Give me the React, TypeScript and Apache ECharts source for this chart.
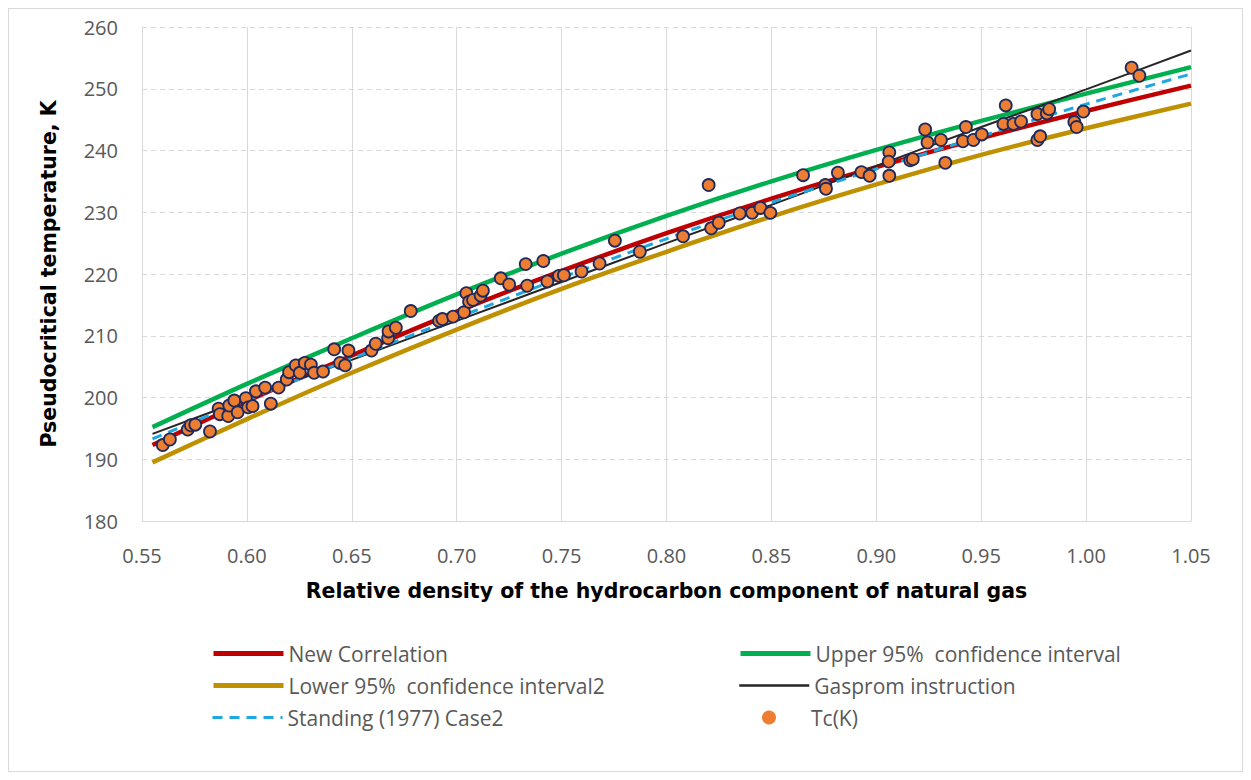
import React, { useEffect, useRef } from "react";
import * as echarts from "echarts";

// Curve abscissae (relative density)
const curveX = [0.555, 0.6, 0.65, 0.7, 0.75, 0.8, 0.85, 0.9, 0.95, 1.0, 1.05];
// Curves (K)
const newCorrelation = [192.3, 199.4, 206.8, 213.9, 220.5, 226.6, 232.2, 237.3, 242.0, 246.4, 250.5];
const upper95 = [195.2, 202.2, 209.6, 216.7, 223.3, 229.4, 235.0, 240.1, 244.8, 249.2, 253.5];
const lower95 = [189.5, 196.5, 204.0, 211.0, 217.6, 223.6, 229.3, 234.5, 239.3, 243.6, 247.6];
const gasprom = [194.1, 199.8, 206.1, 212.4, 218.7, 225.0, 231.2, 237.5, 243.8, 249.9, 256.2];
const standing = [193.3, 199.6, 206.3, 212.9, 219.4, 225.7, 231.6, 237.0, 242.3, 247.5, 252.4];

// Measured Tc(K) points: relative density
const tcX = [
  0.5599, 0.5633, 0.5718, 0.5733, 0.5754, 0.5824, 0.5865, 0.5871, 0.5911, 0.5916,
  0.594, 0.5956, 0.5995, 0.6006, 0.6027, 0.6043, 0.6087, 0.6114, 0.6151, 0.619,
  0.6201, 0.6233, 0.6252, 0.6276, 0.6305, 0.632, 0.6363, 0.6416, 0.6444, 0.6468,
  0.6484, 0.6594, 0.6614, 0.6673, 0.6675, 0.671, 0.6781, 0.6916, 0.6932, 0.6983,
  0.7035, 0.7046, 0.7059, 0.7078, 0.7114, 0.7125, 0.721, 0.725, 0.7329, 0.7336,
  0.7413, 0.7432, 0.7487, 0.7511, 0.7595, 0.7681, 0.7754, 0.7873, 0.8079, 0.8201,
  0.8213, 0.8249, 0.8349, 0.8408, 0.8448, 0.8495, 0.8651, 0.8757, 0.876, 0.8817,
  0.8929, 0.8968, 0.9062, 0.9059, 0.9062, 0.9162, 0.9174, 0.9233, 0.9244, 0.9308,
  0.9329, 0.9413, 0.9427, 0.9463, 0.9503, 0.9606, 0.9617, 0.9654, 0.969, 0.9768,
  0.9813, 0.9824, 0.9768, 0.9781, 0.9944, 0.9955, 0.9987, 1.0217, 1.0254,
];
// Measured Tc(K) points: temperature
const tcY = [
  192.3, 193.2, 194.8, 195.5, 195.6, 194.5, 198.2, 197.3, 197.0, 198.7,
  199.5, 197.6, 199.9, 198.4, 198.6, 201.0, 201.6, 199.0, 201.6, 202.9,
  204.1, 205.2, 204.0, 205.6, 205.3, 204.0, 204.2, 207.8, 205.6, 205.2,
  207.6, 207.6, 208.7, 209.6, 210.7, 211.3, 214.0, 212.4, 212.7, 213.1,
  213.8, 216.9, 215.5, 215.8, 216.5, 217.3, 219.3, 218.3, 221.6, 218.1,
  222.1, 218.8, 219.7, 219.8, 220.4, 221.7, 225.4, 223.6, 226.1, 234.4,
  227.4, 228.3, 229.8, 229.9, 230.7, 229.9, 236.0, 234.4, 233.8, 236.4,
  236.5, 235.9, 239.7, 238.2, 235.9, 238.4, 238.6, 243.4, 241.3, 241.7,
  238.0, 241.5, 243.8, 241.7, 242.6, 244.3, 247.3, 244.3, 244.7, 245.9,
  246.0, 246.7, 241.7, 242.3, 244.6, 243.8, 246.3, 253.4, 252.1,
];

const seriesNames = [
  "New Correlation",
  "Upper 95%  confidence interval",
  "Lower 95%  confidence interval2",
  "Gasprom instruction",
  "Standing (1977) Case2",
  "Tc(K)",
];

const pair = (xs: number[], ys: number[]) => xs.map((x, i) => [x, ys[i]]);

export default function App() {
  const ref = useRef<HTMLDivElement>(null);
  useEffect(() => {
    if (!ref.current) return;
    const chart = echarts.init(ref.current, undefined, { renderer: "svg" });
    const font = "'Open Sans', 'Noto Sans', sans-serif";
    const titleFont = "'DejaVu Sans', 'Liberation Sans', sans-serif";
    const legendText = { fontSize: 21, color: "#595959", fontFamily: font };
    const mkLegend = (name: string, left: number, top: number, lw: number) => ({
      data: [{ name, itemStyle: { opacity: 0 } }],
      left,
      top,
      padding: 0,
      itemWidth: 70,
      itemHeight: 14,
      textStyle: legendText,
      lineStyle: { width: lw },
    });
    const lineSeries = (name: string, ys: number[], color: string, width: number, type: any = "solid", z = 2) => ({
      name,
      type: "line",
      data: pair(curveX, ys),
      smooth: 0.3,
      symbol: "none",
      showSymbol: false,
      lineStyle: { color, width, type },
      itemStyle: { color },
      z,
    });
    chart.setOption({
      animation: false,
      backgroundColor: "#ffffff",
      grid: { left: 133, right: 51, top: 18, bottom: 250, containLabel: false },
      xAxis: {
        type: "value",
        min: 0.55,
        max: 1.05,
        interval: 0.05,
        name: "Relative density of the hydrocarbon component of natural gas",
        nameLocation: "middle",
        nameGap: 59,
        nameTextStyle: { fontSize: 20.5, fontWeight: "bold", color: "#000000", fontFamily: titleFont },
        axisLine: { show: true, lineStyle: { color: "#d9d9d9", width: 1 } },
        axisTick: { show: false },
        axisLabel: {
          fontSize: 20,
          color: "#595959",
          fontFamily: font,
          margin: 24,
          formatter: (v: number) => v.toFixed(2),
        },
        splitLine: { show: true, lineStyle: { color: "#d9d9d9", width: 1, type: "solid" } },
      },
      yAxis: {
        type: "value",
        min: 180,
        max: 260,
        interval: 10,
        name: "Pseudocritical temperature, K",
        nameLocation: "middle",
        nameGap: 83,
        nameTextStyle: { fontSize: 20.5, fontWeight: "bold", color: "#000000", fontFamily: titleFont },
        axisLine: { show: true, lineStyle: { color: "#d9d9d9", width: 1 } },
        axisTick: { show: false },
        axisLabel: { fontSize: 20, color: "#595959", fontFamily: font, margin: 24 },
        splitLine: { show: true, lineStyle: { color: "#d9d9d9", width: 1, type: [5, 4] } },
      },
      legend: [
        mkLegend(seriesNames[0], 202, 634, 5),
        mkLegend(seriesNames[1], 729, 634, 5),
        mkLegend(seriesNames[2], 202, 666, 5),
        mkLegend(seriesNames[3], 729, 666, 2.5),
        mkLegend(seriesNames[4], 202, 698, 3),
        {
          data: [seriesNames[5]],
          left: 753,
          top: 698,
          padding: 0,
          icon: "circle",
          itemWidth: 14,
          itemHeight: 14,
          itemStyle: { borderWidth: 0 },
          textStyle: { ...legendText, padding: [0, 0, 0, 30] },
        },
      ],
      series: [
        lineSeries(seriesNames[0], newCorrelation, "#c00000", 4.5),
        lineSeries(seriesNames[1], upper95, "#00b050", 4.5),
        lineSeries(seriesNames[2], lower95, "#bf9000", 4.5),
        lineSeries(seriesNames[3], gasprom, "#262626", 2),
        lineSeries(seriesNames[4], standing, "#1fa8e0", 3, [10, 7]),
        {
          name: seriesNames[5],
          type: "scatter",
          data: pair(tcX, tcY),
          symbol: "circle",
          symbolSize: 12,
          itemStyle: { color: "#ed7d31", borderColor: "#1f2a5c", borderWidth: 1.8, opacity: 1 },
          z: 5,
        },
      ],
    });
    return () => chart.dispose();
  }, []);
  return (
    <div
      ref={ref}
      style={{ width: 1235, height: 764, border: "1px solid #d9d9d9", boxSizing: "border-box" }}
    />
  );
}
